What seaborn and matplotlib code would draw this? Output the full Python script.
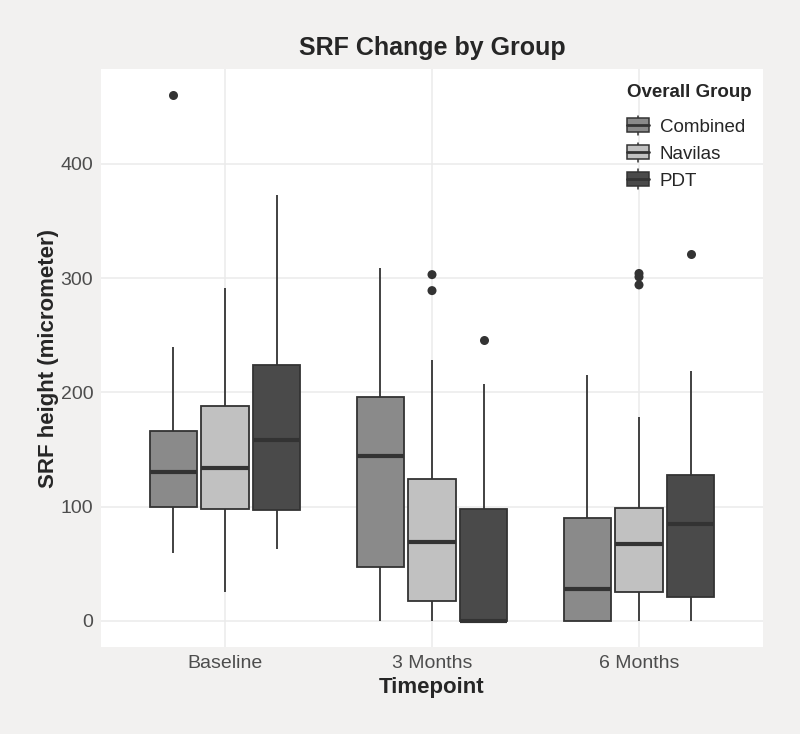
"""Boxplot of SRF height by timepoint and treatment group."""

import matplotlib

matplotlib.use("Agg")
import matplotlib.pyplot as plt
import numpy as np
import pandas as pd
import seaborn as sns
from matplotlib.legend_handler import HandlerBase
from matplotlib.lines import Line2D
from matplotlib.patches import Rectangle

TIMEPOINTS = ["Baseline", "3 Months", "6 Months"]
GROUPS = ["Combined", "Navilas", "PDT"]

# per timepoint: lower whisker, Q1, median, Q3, upper whisker
combined_stats = [[59, 100, 130, 166, 240], [0, 47, 144, 196, 309], [0, 0, 28, 90, 215]]
navilas_stats = [[25, 98, 134, 188, 291], [0, 17, 69, 124, 228], [0, 25, 67, 99, 178]]
pdt_stats = [[63, 97, 158, 224, 373], [0, 0, 0, 98, 207], [0, 21, 85, 128, 219]]

# outlying points per timepoint
combined_outliers = [[460], [], []]
navilas_outliers = [[], [303, 289], [304, 301, 294]]
pdt_outliers = [[], [246], [321]]

PALETTE = {"Combined": "#8a8a8a", "Navilas": "#c1c1c1", "PDT": "#4a4a4a"}
LINE = "#333333"
BG = "#f2f1f0"


def to_long(per_group):
    rows = []
    for group, per_tp in zip(GROUPS, per_group):
        for tp, vals in zip(TIMEPOINTS, per_tp):
            for v in vals:
                rows.append({"Timepoint": tp, "Overall Group": group, "SRF": v})
    return pd.DataFrame(rows)


class BoxKey(HandlerBase):
    """Legend key drawn as a tiny boxplot (whisker, box, median)."""

    def create_artists(self, legend, orig, xd, yd, w, h, fontsize, trans):
        x0, y0 = -xd, -yd
        whisk = Line2D([x0 + w / 2] * 2, [y0 - 0.1 * h, y0 + 1.1 * h],
                       color=LINE, lw=1.1, transform=trans)
        box = Rectangle((x0, y0 + 0.08 * h), w, 0.84 * h, facecolor=orig.get_facecolor(),
                        edgecolor=LINE, lw=1.1, transform=trans)
        med = Line2D([x0, x0 + w], [y0 + h / 2] * 2, color=LINE, lw=2, transform=trans)
        return [whisk, box, med]


box_df = to_long([combined_stats, navilas_stats, pdt_stats])
out_df = to_long([combined_outliers, navilas_outliers, pdt_outliers])

sns.set_style("whitegrid")
plt.rcParams["font.family"] = ["Liberation Sans", "DejaVu Sans"]

fig = plt.figure(figsize=(8, 7.34), dpi=100, facecolor=BG)
ax = fig.add_axes([0.126, 0.1185, 0.828, 0.7875])
ax.set_facecolor("white")

sns.boxplot(
    data=box_df, x="Timepoint", y="SRF", hue="Overall Group",
    order=TIMEPOINTS, hue_order=GROUPS, palette=PALETTE,
    width=0.75, gap=0.09, linecolor=LINE, linewidth=1.3,
    showcaps=False, showfliers=False,
    medianprops={"linewidth": 3, "color": LINE}, ax=ax,
)

n_before = len(ax.collections)
sns.stripplot(
    data=out_df, x="Timepoint", y="SRF", hue="Overall Group",
    order=TIMEPOINTS, hue_order=GROUPS, palette={g: LINE for g in GROUPS},
    dodge=True, jitter=False, size=6.5, legend=False, ax=ax,
)
# stripplot dodges over 0.8, the boxes over 0.75: pull the points in to match
for coll in ax.collections[n_before:]:
    off = np.asarray(coll.get_offsets()).copy()
    if len(off):
        centre = np.round(off[:, 0])
        off[:, 0] = centre + (off[:, 0] - centre) * 0.75 / 0.8
        coll.set_offsets(off)

ax.set_xlim(-0.6, 2.6)
ax.set_ylim(-23, 483)
ax.set_yticks([0, 100, 200, 300, 400])
ax.grid(True, color="#ebebeb", linewidth=1.1)
ax.set_axisbelow(True)
for s in ax.spines.values():
    s.set_visible(False)
ax.tick_params(length=0, pad=5.5, labelsize=14, labelcolor="#4d4d4d")

ax.set_title("SRF Change by Group", fontsize=18, fontweight="bold", pad=10)
ax.set_xlabel("Timepoint", fontsize=16, fontweight="bold", labelpad=4)
ax.set_ylabel("SRF height (micrometer)", fontsize=16, fontweight="bold", labelpad=1)

handles, labels = ax.get_legend_handles_labels()
leg = ax.legend(
    handles[:3], labels[:3], title="Overall Group",
    handler_map={h: BoxKey() for h in handles[:3]},
    loc="upper left", bbox_to_anchor=(0.772, 0.899), bbox_transform=fig.transFigure,
    frameon=False, fontsize=13.5, title_fontproperties={"weight": "bold", "size": 13.5},
    alignment="left", borderpad=0, handlelength=1.15, handleheight=0.95,
    labelspacing=0.45, handletextpad=0.6,
)
leg._legend_box.sep = 12

fig.savefig("out.png", dpi=100, facecolor=BG)
plt.close(fig)
